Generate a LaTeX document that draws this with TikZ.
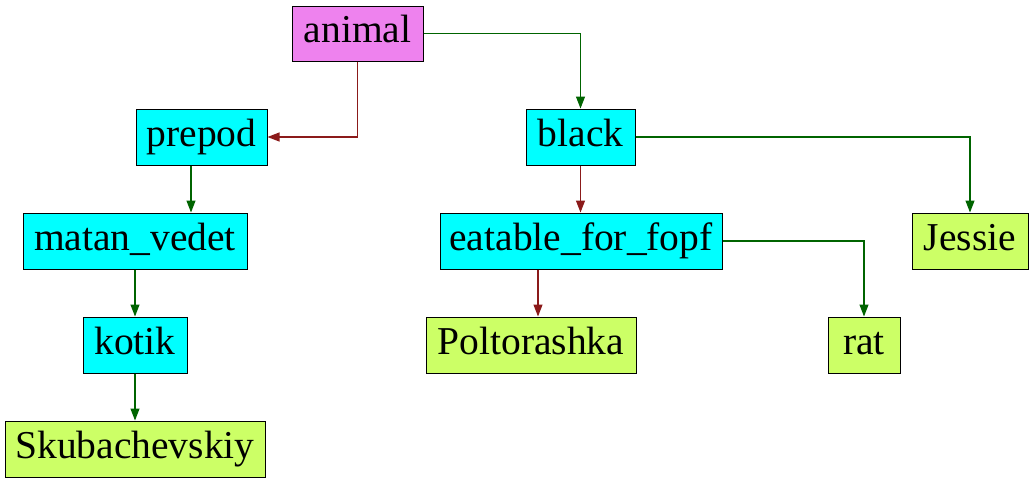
\documentclass[tikz,border=0pt]{standalone}
\usepackage{fontspec}
\setmainfont{Liberation Serif}
\usetikzlibrary{arrows.meta}
\definecolor{cviolet}{HTML}{EE82EE}
\definecolor{ccyan}{HTML}{00FFFF}
\definecolor{clime}{HTML}{CCFF66}
\definecolor{cgreen}{HTML}{006400}
\definecolor{cred}{HTML}{8B1A1A}
\tikzset{
  box/.style={draw=black, line width=1pt, inner sep=0pt, font=\fontsize{39.5}{40}\selectfont, text height=27pt, text depth=9pt, anchor=center},
  gedge/.style={draw=cgreen, line width=1.2pt, -{Triangle[length=12pt,width=9pt]}},
  redge/.style={draw=cred, line width=1.2pt, -{Triangle[length=12pt,width=9pt]}},
}
\begin{document}
\begin{tikzpicture}[x=1pt,y=-1pt]
\useasboundingbox (0,0) rectangle (1034,483);
\node[box, fill=cviolet, minimum width=131pt, minimum height=55pt] (animal) at (357.5,33.5) {animal};
\node[box, fill=ccyan, minimum width=131pt, minimum height=56pt] (prepod) at (201.5,137) {prepod};
\node[box, fill=ccyan, minimum width=109pt, minimum height=56pt] (black) at (580.5,137) {black};
\node[box, fill=ccyan, minimum width=224pt, minimum height=56pt] (matan) at (135,241) {matan\_vedet};
\node[box, fill=ccyan, minimum width=282pt, minimum height=56pt] (eat) at (581,241) {eatable\_for\_fopf};
\node[box, fill=clime, minimum width=116pt, minimum height=56pt] (jessie) at (970,241) {Jessie};
\node[box, fill=ccyan, minimum width=104pt, minimum height=56pt] (kotik) at (135,345) {kotik};
\node[box, fill=clime, minimum width=210pt, minimum height=56pt] (polt) at (531,345) {Poltorashka};
\node[box, fill=clime, minimum width=72pt, minimum height=56pt] (rat) at (864,345) {rat};
\node[box, fill=clime, minimum width=260pt, minimum height=56pt] (skub) at (135,449) {Skubachevskiy};

\draw[gedge] (animal.east) -| (black.north);
\draw[redge] (animal.south) |- (prepod.east);
\draw[gedge] (prepod.south -| 191,0) -- (matan.north -| 191,0);
\draw[redge] (black.south) -- (black.south |- eat.north);
\draw[gedge] (black.east) -| (jessie.north);
\draw[redge] (eat.south -| 538,0) -- (polt.north -| 538,0);
\draw[gedge] (eat.east) -| (rat.north);
\draw[gedge] (matan.south) -- (kotik.north);
\draw[gedge] (kotik.south) -- (skub.north);
\end{tikzpicture}
\end{document}
